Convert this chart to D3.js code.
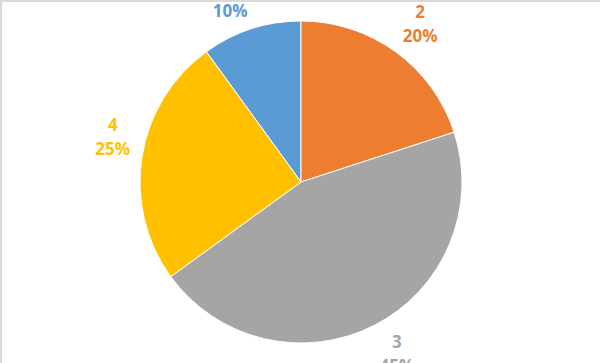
<!DOCTYPE html>
<html>
<head>
<meta charset="utf-8">
<script src="https://cdn.jsdelivr.net/npm/d3@7"></script>
<style>
  html, body { margin: 0; padding: 0; background: #fff; overflow: hidden; }
  svg { display: block; }
</style>
</head>
<body>
<svg id="chart" width="600" height="363"></svg>
<script>
// slice data, clockwise from 12 o'clock
const categories = ['1', '2', '3', '4'];
const values = [10, 20, 45, 25];
const colors = ['#5B9BD5', '#ED7D31', '#A5A5A5', '#FFC000'];

const width = 600, height = 363;
const cx = 301, cy = 182, radius = 161;
const labelGap = 12;

const svg = d3.select('#chart');

// chart area frame (only top / left edges fall inside the picture)
svg.append('rect')
    .attr('x', 1).attr('y', 1)
    .attr('width', width + 20).attr('height', height + 20)
    .attr('fill', 'none')
    .attr('stroke', '#d9d9d9')
    .attr('stroke-width', 2);

const total = d3.sum(values);
const rows = categories.map((c, i) => ({ cat: c, value: values[i], color: colors[i] }));

// Excel draws slice 2 starting at the top; slice 1 ends there
const pie = d3.pie()
    .value(d => d.value)
    .sort(null)
    .startAngle(-2 * Math.PI * values[0] / total)
    .endAngle(2 * Math.PI - 2 * Math.PI * values[0] / total);

const arc = d3.arc().innerRadius(0).outerRadius(radius);

const g = svg.append('g').attr('transform', `translate(${cx},${cy})`);

const arcs = pie(rows);

g.selectAll('path')
    .data(arcs)
    .enter()
    .append('path')
    .attr('d', arc)
    .attr('fill', d => d.data.color)
    .attr('stroke', '#fff')
    .attr('stroke-width', 1);

// labels: box corner sits on a point just outside the pie at the mid angle
const labels = g.selectAll('text.lbl')
    .data(arcs)
    .enter()
    .append('text')
    .attr('class', 'lbl')
    .attr('text-anchor', 'middle')
    .style('font-family', '"Open Sans", Lato, sans-serif')
    .style('font-weight', 'bold')
    .style('font-size', '17px')
    .attr('fill', d => d.data.color);

labels.append('tspan')
    .attr('x', 0).attr('dy', 0)
    .text(d => d.data.cat);
labels.append('tspan')
    .attr('x', 0).attr('dy', 24)
    .text(d => Math.round(d.data.value / total * 100) + '%');

labels.each(function(d) {
    const a = (d.startAngle + d.endAngle) / 2;
    const r = radius + labelGap;
    const ax = r * Math.sin(a), ay = -r * Math.cos(a);
    const t = d3.select(this);
    const w = d3.max(t.selectAll('tspan').nodes(), n => n.getComputedTextLength());
    const capH = 12, lineH = 24;
    const blockH = capH + lineH;
    const x = Math.sin(a) >= 0 ? ax + w / 2 : ax - w / 2;
    // first baseline sits one cap height below the block top
    const top = Math.cos(a) >= 0 ? ay - blockH : ay;
    t.attr('transform', `translate(${x},${top + capH})`);
});
</script>
</body>
</html>
